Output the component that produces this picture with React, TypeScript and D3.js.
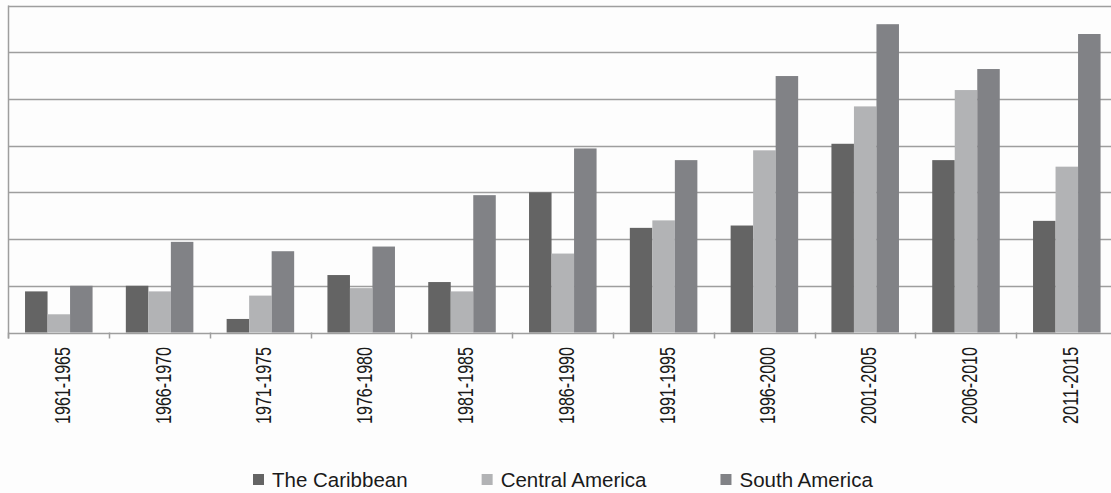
import { useEffect, useRef } from 'react';
import * as d3 from 'd3';

const width = 1111;
const height = 493;

// périodes (axe x)
const periods = [
  '1961-1965', '1966-1970', '1971-1975', '1976-1980', '1981-1985', '1986-1990',
  '1991-1995', '1996-2000', '2001-2005', '2006-2010', '2011-2015',
];

const seriesNames = ['The Caribbean', 'Central America', 'South America'];
const seriesColors = ['#646464', '#b2b3b5', '#818286'];

// valeurs (unités = une ligne de grille)
const caribbean = [0.88, 1.0, 0.29, 1.23, 1.08, 3.0, 2.24, 2.29, 4.04, 3.69, 2.39];
const centralAmerica = [0.39, 0.88, 0.79, 0.95, 0.88, 1.69, 2.4, 3.9, 4.84, 5.19, 3.55];
const southAmerica = [1.0, 1.94, 1.74, 1.84, 2.94, 3.94, 3.69, 5.49, 6.6, 5.64, 6.39];

const yTicks = [0, 1, 2, 3, 4, 5, 6, 7];

const App = () => {
  const svgRef = useRef<SVGSVGElement>(null);

  useEffect(() => {
    document.body.style.margin = '0';
    const svg = d3.select(svgRef.current);
    svg.selectAll('*').remove();

    svg.append('rect').attr('width', width).attr('height', height).attr('fill', '#fdfdfd');

    const x = d3.scaleBand().domain(periods).range([8.2, 1117]).padding(0);
    const inner = d3.scaleBand().domain(seriesNames)
      .range([x.bandwidth() * 0.167, x.bandwidth() * 0.837]).padding(0);
    const y = d3.scaleLinear().domain([0, 7]).range([332.5, 5.5]);

    const values = [caribbean, centralAmerica, southAmerica];
    const grey = '#9e9e9e';

    // lignes de grille
    svg.append('g').selectAll('line')
      .data(yTicks)
      .enter().append('line')
      .attr('x1', 8).attr('x2', width)
      .attr('y1', d => Math.round(y(d)) + 0.5)
      .attr('y2', d => Math.round(y(d)) + 0.5)
      .attr('stroke', grey).attr('stroke-width', 1.5);

    // axe vertical
    svg.append('line')
      .attr('x1', 8.5).attr('x2', 8.5)
      .attr('y1', y(7)).attr('y2', y(0) + 6)
      .attr('stroke', grey).attr('stroke-width', 1.5);

    // barres
    const groups = svg.append('g').selectAll('g')
      .data(periods)
      .enter().append('g')
      .attr('transform', d => `translate(${x(d)},0)`);

    groups.selectAll('rect')
      .data((_, i) => seriesNames.map((s, k) => ({ s, k, v: values[k][i] })))
      .enter().append('rect')
      .attr('x', d => inner(d.s)!)
      .attr('width', inner.bandwidth())
      .attr('y', d => y(d.v))
      .attr('height', d => y(0) - y(d.v))
      .attr('fill', d => seriesColors[d.k]);

    // graduations de l'axe x
    const bounds = periods.map(p => x(p)!).concat([x(periods[periods.length - 1])! + x.bandwidth()]);
    svg.append('g').selectAll('line')
      .data(bounds)
      .enter().append('line')
      .attr('x1', d => Math.round(d) + 0.5).attr('x2', d => Math.round(d) + 0.5)
      .attr('y1', y(0)).attr('y2', y(0) + 6)
      .attr('stroke', grey).attr('stroke-width', 1.5);

    // étiquettes
    svg.append('g').selectAll('text')
      .data(periods)
      .enter().append('text')
      .attr('transform', d => `translate(${x(d)! + x.bandwidth() / 2 + 3.5},347) rotate(-90)`)
      .attr('text-anchor', 'end')
      .attr('dy', '0.35em')
      .attr('font-family', '"Liberation Sans", Arial, sans-serif')
      .attr('font-size', 22)
      .attr('textLength', 77)
      .attr('lengthAdjust', 'spacingAndGlyphs')
      .attr('fill', '#1a1a1a')
      .text(d => d);

    // légende
    const legend = svg.append('g').attr('transform', 'translate(253,0)');
    let cx = 0;
    seriesNames.forEach((name, k) => {
      const item = legend.append('g').attr('transform', `translate(${cx},0)`);
      item.append('rect').attr('x', 0).attr('y', 474).attr('width', 11).attr('height', 11)
        .attr('fill', seriesColors[k]);
      const t = item.append('text')
        .attr('x', 19).attr('y', 487)
        .attr('font-family', '"Liberation Sans", Arial, sans-serif')
        .attr('font-size', 20.5)
        .attr('fill', '#1a1a1a')
        .text(name);
      const w = (t.node() as SVGTextElement).getComputedTextLength();
      cx += 19 + w + 74;
    });
  }, []);

  return <svg ref={svgRef} width={width} height={height} style={{ display: 'block' }}></svg>;
};

export default App;
